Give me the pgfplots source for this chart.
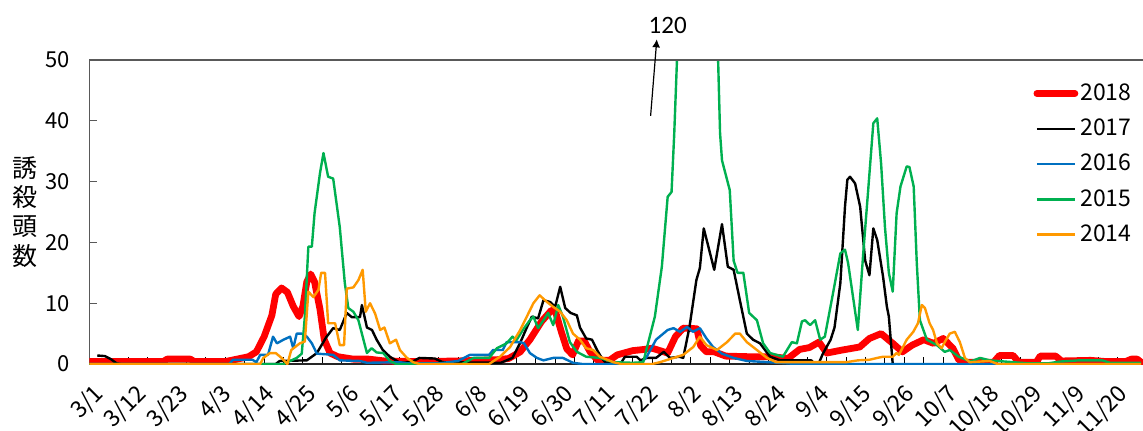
\documentclass[border=0pt]{standalone}
\usepackage{fontspec}
\setmainfont{Noto Sans CJK JP}
\newfontfamily\calib{Carlito}
\usepackage{pgfplots}
\pgfplotsset{compat=1.18}
\usetikzlibrary{arrows.meta}
\definecolor{c16}{HTML}{0070C0}
\definecolor{c15}{HTML}{00B050}
\definecolor{c14}{HTML}{FF9900}
\definecolor{axgray}{HTML}{595959}
\begin{document}
\begin{tikzpicture}
\begin{axis}[
  name=ax, at={(0,0)}, anchor=south west, scale only axis,
  width=526.75pt, height=152pt,
  xmin=0, xmax=271.5, ymin=0, ymax=50,
  clip mode=individual,
  axis x line*=bottom, axis y line*=left,
  x axis line style={black!85, line width=0.7pt},
  y axis line style={axgray, line width=0.6pt},
  tick align=inside,
  xtick={0,11,...,264},
  xticklabels={3/1,3/12,3/23,4/3,4/14,4/25,5/6,5/17,5/28,6/8,6/19,6/30,7/11,7/22,8/2,8/13,8/24,9/4,9/15,9/26,10/7,10/18,10/29,11/9,11/20},
  minor xtick={5,10,...,270},
  major x tick style={draw=none},
  minor x tick style={black, line width=0.5pt},
  minor tick length=3.5pt,
  ytick={0,10,...,50},
  major y tick style={axgray, line width=0.5pt},
  major tick length=3.5pt,
  /pgf/number format/assume math mode=true,
  tick label style={font=\fontsize{11}{13}\selectfont},
  xticklabel style={rotate=45, anchor=north east, inner sep=1pt, xshift=-4.5pt, yshift=-6pt,
    font=\fontsize{11.5}{13}\selectfont},
  yticklabel style={xshift=-6.5pt},
  every axis y label/.style={at={(axis description cs:0,0.5)}, anchor=center, xshift=-32pt},
  ylabel={誘\\殺\\頭\\数},
  ylabel style={align=center, font=\fontsize{12.5}{14.6}\selectfont},
  legend cell align=left,
  legend style={draw=none, fill=none, at={(rel axis cs:0.89,0.95)}, anchor=north west,
    font=\fontsize{11.5}{13}\selectfont, row sep=3.8pt, nodes={inner xsep=1pt}},
  legend image code/.code={\draw[#1] (0pt,0pt) -- (19pt,0pt);},
]
% 2018
\addplot[red, line width=3.4pt, line join=round, line cap=round] coordinates {
(0,0.4)(19,0.4)(20,0.8)(26,0.8)(27,0.4)(35,0.4)(38,0.8)(41,1.2)(43,2)(45,4.5)(47,8)(48,11.5)(49.5,12.5)(51,11.8)(52.5,9.5)(54,7.8)(55,9.5)(56,13.5)(57,14.8)(58,13.5)(59.4,9)(60.5,4)(62,1.8)(64,1.2)(68,0.8)(72,0.8)(76,0.5)(85,0.4)(95,0.5)(100,0.6)(105,0.7)(108,0.9)(111,2)(113.5,4)(116.5,7)(119,8.8)(120,8.8)(121.5,5.5)(123,2.5)(124.5,1.5)(126,3.8)(127.5,3.8)(129,2)(131,0.6)(134,0.6)(136,1.5)(140,2.2)(143,2.4)(145,2.6)(147,2.2)(149,1.8)(151,4.5)(153,5.9)(156.5,5.8)(157.5,3)(159,2)(161,2)(164,1.3)(170,1.2)(176,1.2)(180,0.9)(183,2.4)(185.5,2.7)(188,3.6)(190,1.8)(194,2.3)(198.5,2.8)(201,4.2)(204,5)(207,3.4)(209.5,2)(212,3.1)(215,4)(217.5,3.4)(220,4.2)(222.5,2.6)(224,0.7)(226,0.3)(233,0.3)(234.5,1.4)(238,1.4)(239.5,0.3)(244,0.3)(245,1.3)(249,1.3)(250.5,0.5)(258,0.6)(262,0.4)(267,0.4)(268.5,0.8)(270,0.8)(271,0.3)
};
\addlegendentry{2018}
% 2017
\addplot[black, line width=1.2pt, line join=round] coordinates {
(2,1.4)(4,1.3)(5.5,0.8)(7,0.1)(8,0)(48,0)(49,0.5)(56,0.6)(58.6,1.8)(61,4.4)(62.8,5.9)(64.5,5.6)(66.3,8.4)(67.6,7.7)(69.7,7.7)(70.2,9.7)(71.5,6)(72.8,5.6)(74,4)(75.6,2.3)(77.4,1.2)(80,0.2)(83,0.3)(85,1)(89,0.9)(91,0.3)(106,0.2)(109,1)(111,3.5)(112.7,6)(114,7.8)(115.6,7.5)(117,10.5)(118.7,10.2)(120,9.4)(121.3,12.7)(122.6,9.2)(124,8.4)(125.6,8)(126.4,6)(128,4.2)(129.5,4)(130.8,2.3)(132,1)(133,0.2)(137,0.2)(138,1.2)(141,1.2)(142,0.6)(143.6,1)(146,1)(148,2)(149.6,1)(152,1.2)(153,1)(154.6,6)(156.4,13.8)(157.3,15.8)(158.3,22.3)(161,15.5)(163,23)(164.5,16)(166,15.5)(167.6,10.5)(169.4,5)(171,4)(172.8,3.4)(175.4,1.2)(178,0.6)(186,0.6)(187,0)(188,0.2)(189,1.7)(191,4)(192,6)(193.5,13.3)(194.7,25.9)(195.3,30.3)(196,30.8)(197.3,29.7)(198.6,25.9)(199.9,17)(201,14.6)(202,22.3)(203,20.4)(204.5,14.4)(205.5,9.4)(206,7.8)(207,0)
};
\addlegendentry{2017}
% 2016
\addplot[c16, line width=1.2pt, line join=round] coordinates {
(0,0)(36,0)(37,0.7)(42,0.7)(43,0.3)(44,1.5)(46,1.5)(47.3,4.5)(48.3,3.4)(50,4)(51.7,4.5)(52.5,2.6)(53.4,5)(54.7,5)(56,4.5)(57.3,3.4)(58.6,1.7)(61,1.6)(62.8,1.5)(64.5,0.6)(69.7,0.5)(71.5,0.2)(80,0.3)(82,0.1)(90,0.1)(95,0.5)(98,1.5)(103,1.5)(104,2.3)(106.5,2.3)(107.5,3.6)(111,3.6)(112,3.4)(113.5,1.8)(115.3,1)(117,0.6)(119.5,1)(122,1)(124.6,0.2)(127,0)(142,0)(143.6,1.2)(146,4)(149,5.6)(150.5,5.9)(152.2,5.3)(154,6.1)(155.5,5.3)(157.3,5.9)(159,4.2)(160.7,2.8)(163,1.7)(166,1)(169.4,0.5)(175,0.3)(180,0.1)(182,0)(271,0)
};
\addlegendentry{2016}
% 2015
\addplot[c15, line width=1.2pt, line join=round] coordinates {
(0,0)(50,0)(51.7,0.5)(53.4,1)(54.7,1.7)(55.5,7.8)(56.4,19.3)(57.3,19.3)(58,24.8)(59.4,31.4)(60.3,34.7)(61.5,30.8)(62.8,30.5)(64.5,22.5)(65.8,13.3)(66.7,9.2)(68,8.6)(69.3,7.2)(70.6,4)(71.5,1.8)(72.7,2.6)(74,1.9)(75.7,1.8)(77.4,0.5)(79,0)(96,0)(99,1)(103,1)(105,2.6)(107.5,3.4)(109,4.5)(110,3.9)(112,5.9)(113.5,7.2)(114.4,7.8)(115.6,5.9)(117,7.2)(118.2,8.4)(119.5,6.4)(120.8,9.7)(122,7.8)(123.8,3.6)(125.6,2)(128,1.2)(131.5,1)(135,0.3)(140,0.2)(142.7,0.3)(145.7,7.8)(147.5,16)(149,27.5)(150,28.3)(150.7,38)(151.4,50)(152.5,80)(154,110)(156,120)(158,112)(160,85)(161.5,58)(162,50)(162.5,38)(163,33.5)(165,28.6)(166,17)(167,15)(168.5,15)(170,8.4)(172,7.2)(173.6,3.4)(175.4,1.8)(178.7,1.2)(181,3.6)(182.3,3.4)(183.6,7)(184.4,7.2)(185.7,6.4)(187,7.2)(188.3,4)(189.5,4.5)(191.6,11.6)(193.5,18.2)(194.7,18.8)(195.5,16.6)(198,5.6)(199.4,18.2)(200.6,28)(202,39.6)(203,40.4)(204,33)(205,22.5)(206,15)(207,11.9)(208,24.8)(209,29.2)(210.6,32.5)(211.3,32.4)(212.4,29.2)(213.2,16.6)(214,7.2)(215.8,4)(218.4,3.1)(220.4,2)(221.7,2.3)(224,1.2)(227,0.4)(229.5,1)(232,0.6)(238,0.3)(242,0.1)(247,0.1)(250,0.4)(255,0.6)(261,0.6)(263,0.2)(271,0.2)
};
\addlegendentry{2015}
% 2014
\addplot[c14, line width=1.2pt, line join=round] coordinates {
(0,0)(44,0)(44.8,1)(46.5,1.8)(48,1.8)(49.5,1)(51,0)(52,2.3)(54.2,3.4)(55.5,3.7)(56.4,11.9)(57.7,11)(59,12.2)(59.7,15)(60.7,15)(61.5,6.7)(63.3,6.7)(64.5,3.1)(65.6,3.1)(66.3,12.4)(68,12.6)(69.3,13.8)(70.4,15.5)(71.2,8.6)(72.3,10)(73.6,8.3)(74.9,5.6)(76,6)(77.4,3.4)(79,4)(80,2.3)(81.8,1)(83.4,0.3)(85,0)(103,0)(105.8,1.2)(108.4,2.8)(111,5.6)(112.7,7.8)(114.4,10)(116,11.3)(117.9,10.2)(119.5,9.4)(121.3,8.6)(123,7.2)(124.6,5)(126.4,4)(128,2.6)(129.8,2.3)(131.5,1.2)(135,0.3)(137,0)(145,0)(147,0.3)(150.5,1)(153,1.5)(155.6,2.8)(157.3,4.5)(159,3.1)(161.7,2.3)(164.3,3.6)(166.4,5)(167.6,5)(169.4,3.6)(172,2.3)(174.6,1)(177,0.3)(195,0.3)(198,0.6)(201,0.7)(203,1)(204.5,1.2)(207,1.2)(208,1.8)(208.6,1.5)(210.6,4)(212.3,5.3)(213.5,6.7)(214.5,9.7)(215.3,9.2)(216.5,6.7)(217.4,5.6)(218.4,3.4)(219.6,2.6)(220.4,3.6)(221.7,5)(223,5.3)(224.3,3.6)(225.6,1)(226.8,0.3)(232,0.5)(234,0)(271,0)
};
\addlegendentry{2014}
\draw[axgray, line width=0.6pt] (rel axis cs:0,1) -- (rel axis cs:1,1);
\coordinate (arrA) at (axis cs:144.6,40.8);
\coordinate (arrB) at (axis cs:146.2,53.4);
\coordinate (lab) at (axis cs:149.0,55.7);
\end{axis}
\draw[black, line width=0.6pt, -{Latex[length=4pt,width=4pt]}] (arrA) -- (arrB);
\node[font=\calib\fontsize{12.5}{14}\selectfont] at (lab) {120};
\pgfresetboundingbox
\path[use as bounding box] (-44.75pt,-33pt) rectangle (526.75pt,182pt);
\end{tikzpicture}
\end{document}
